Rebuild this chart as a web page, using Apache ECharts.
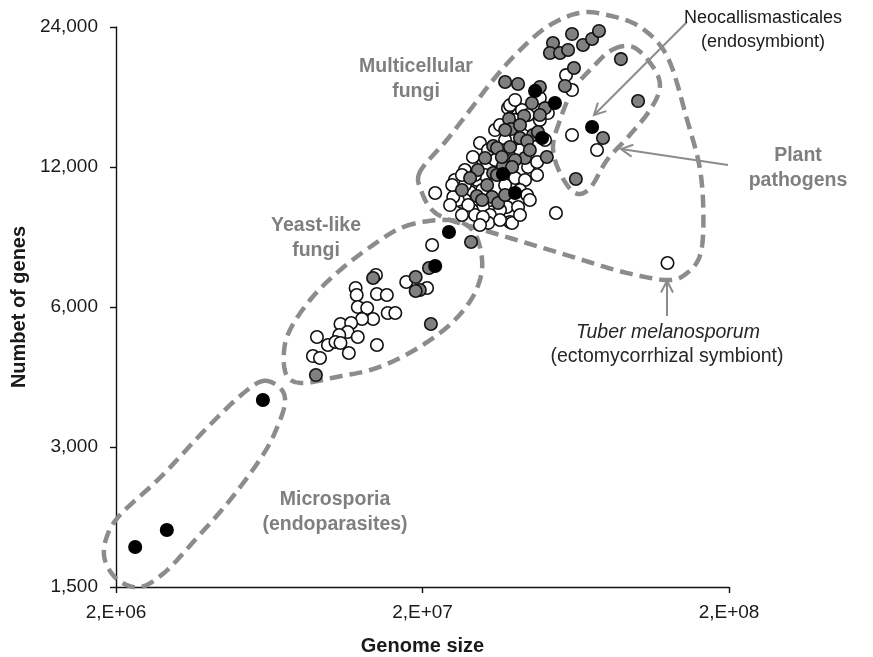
<!DOCTYPE html>
<html><head><meta charset="utf-8">
<script src="https://cdn.jsdelivr.net/npm/echarts@6/dist/echarts.min.js"></script>
<style>html,body{margin:0;padding:0;background:#fff}#c{width:873px;height:657px}</style>
</head><body><div id="c"></div>
<script>
// ---- axis ticks ----
const xTicks = [2e6, 2e7, 2e8];
const yTicks = [1500, 3000, 6000, 12000, 24000];

// ---- data: genome size (Mb) and number of genes ----
const whiteGenomeMb = [21.5,14.1,17.7,20.7,12.1,12.2,14.2,15.3,12.3,13.2,15.4,16.3,13.8,12.7,10.8,11.7,11.4,10.7,12.3,9.05,9.83,10.4,10.8,14.2,11.5,8.78,9.26,
  22.0,58.8,61.5,51.3,38.0,42.2,40.1,61.5,74.2,54.5,126,
  26.1,26.9,28.6,29.2,30.1,27.9,25.5,33.2,33.7,33.2,31.5,38.6,37.7,35.8,31.3,31.5,29.2,30.8,37.2,44.2,47.3,47.3,40.1,43.2,28.6,29.0,33.2,32.8,41.0,27.5,32.5,34.5,35.8,44.8,48.3,41.6,43.9,27.5,29.7,26.1,25.2,39.2,31.5,37.2,41.6,32.0,27.5,
  26.9,29.7,28.2,30.8,35.8,41.6,44.8,50.2,38.6,44.2,34.5,37.2,32.7,26.9,24.6,25.0,40.1,48.3];
const whiteGenes = [8156,7031,6790,6592,6592,6367,6399,6367,6000,5970,5824,5824,5654,5654,5516,5543,5301,5223,5172,5172,4971,5045,5021,4971,4778,4707,4662,
  10550,18915,17565,15675,16065,15915,15150,14063,13053,9556,7461,
  10814,10091,9699,10446,11252,11252,11252,9795,9323,10191,9844,9140,9844,9699,10707,12423,12609,13513,13716,12000,12300,11534,11364,11252,10602,9699,9462,9100,9844,11823,12120,14410,14770,14770,15150,10707,10446,10191,9462,10191,10344,9094,9369,13053,13053,11534,10976,
  11534,11534,9940,9005,9231,9462,10191,13716,16300,15525,12423,10976,13053,9462,9940,10976,16725,16890];

const grayGenomeMb = [28.8,13.8,19.0,19.6,19.0,21.0,21.3,8.98,
  37.2,41.0,48.3,53.3,52.1,56.2,59.7,61.5,66.8,71.5,75.3,62.4,58.3,45.5,50.2,42.9,38.3,38.9,41.6,45.9,47.6,34.0,38.6,43.2,40.1,50.9,30.3,34.0,36.6,39.2,32.5,30.1,33.7,35.3,35.0,36.3,43.9,35.0,
  32.0,28.6,41.6,37.2,44.8,31.3,37.2,48.3,26.9,
  88.8,101,77.6,63.3];
const grayGenes = [8278,6927,6961,6527,6495,7278,5516,4284,
  18280,18105,17835,22170,21105,21105,21420,23175,21960,22620,23535,19590,17925,16470,16065,15450,15225,14480,13852,14063,14271,13314,13248,12547,12423,12609,11823,11649,12059,12000,10976,10395,10344,10041,13182,12609,13647,11534,
  12547,11364,14770,14410,13053,10191,10446,15525,10707,
  20475,16635,13852,11308];

const blackGenomeMb = [2.31,2.93,6.03,24.4,22.0,46.6,54.1,49.1,36.6,40.1,71.5];
const blackGenes = [1829,1989,3786,8698,7350,17490,16470,13852,11590,10550,14628];

// ---- group outlines (genome Mb, genes) ----
const microOutline = [[6.03,4160],[6.86,4018],[7.12,3749],[6.76,3345],[6.03,2883],[4.71,2307],[3.62,1893],[2.89,1615],[2.40,1500],[2.03,1553],[1.84,1715],[1.86,1911],[2.06,2142],[2.78,2574],[3.90,3263],[5.08,3862]];
const yeastOutline = [[17.3,8915],[22.8,9231],[27.5,9050],[30.3,8361],[31.3,7278],[29.4,6367],[25.5,5627],[21.2,5096],[16.9,4662],[13.5,4392],[10.5,4243],[8.15,4119],[7.23,4263],[7.06,4778],[7.39,5355],[8.59,6211],[10.5,7100],[13.5,8076]];
const multiOutline = [[19.6,11700],[19.9,10600],[21.5,9700],[24.6,9231],[33.2,8698],[48.3,8076],[61.9,7686],[90.2,7135],[126,6858],[146,7100],[161,7762],[165,9231],[161,11823],[146,15150],[126,20685],[102.5,24000],[80.0,25470],[64.8,25725],[50.9,24000],[40.7,21100],[34.0,18460],[28.6,15915],[24.0,13716]];
const pathoOutline = [[83.0,21420],[97.3,21735],[113,19695],[119,17835],[110.5,15915],[93.7,13923],[80.0,12423],[70.4,10814],[62.9,10550],[56.2,11649],[53.3,13248],[56.2,15150],[61.9,17565],[72.0,19695]];

const FONT = '"Liberation Sans", Arial, Helvetica, sans-serif';
const zip = (xs, ys) => xs.map((x, i) => [x * 1e6, ys[i]]);

function sciLabel(v) {
  const e = Math.floor(Math.log10(v) + 1e-6);
  const m = Math.round(v / Math.pow(10, e));
  return m + ',E+' + String(e).padStart(2, '0');
}

const chart = echarts.init(document.getElementById('c'), null, {renderer: 'canvas'});
const markerBase = {symbol: 'circle', symbolSize: 12.5};
const option = {
  animation: false,
  backgroundColor: '#fff',
  grid: {left: 116, top: 27, right: 144, bottom: 70, containLabel: false, outerBoundsMode: 'none'},
  xAxis: {
    type: 'log', logBase: 10, min: 2e6, max: 2e8,
    name: 'Genome size', nameLocation: 'middle', nameGap: 49,
    nameTextStyle: {fontFamily: FONT, fontSize: 20, fontWeight: 'bold', color: '#1a1a1a'},
    axisLine: {show: true, lineStyle: {color: '#111', width: 1.4}},
    axisTick: {show: true, customValues: xTicks, length: 6, lineStyle: {color: '#111', width: 1.4}},
    axisLabel: {customValues: xTicks, formatter: sciLabel, margin: 16, fontFamily: FONT, fontSize: 19, color: '#1a1a1a'},
    splitLine: {show: false}, minorTick: {show: false}
  },
  yAxis: {
    type: 'log', logBase: 2, min: 1500, max: 24000,
    name: 'Numbet of genes', nameLocation: 'middle', nameGap: 78, nameRotate: 90,
    nameTextStyle: {fontFamily: FONT, fontSize: 20, fontWeight: 'bold', color: '#1a1a1a'},
    axisLine: {show: true, lineStyle: {color: '#111', width: 1.4}},
    axisTick: {show: true, customValues: yTicks, length: 6, lineStyle: {color: '#111', width: 1.4}},
    axisLabel: {customValues: yTicks, formatter: v => Math.round(v).toLocaleString('en-US'), margin: 18, fontFamily: FONT, fontSize: 19, color: '#1a1a1a'},
    splitLine: {show: false}, minorTick: {show: false}
  },
  series: [
    Object.assign({type: 'scatter', name: 'white', z: 3, data: zip(whiteGenomeMb, whiteGenes),
      itemStyle: {color: '#ffffff', borderColor: '#111', borderWidth: 1.6, opacity: 1}}, markerBase),
    Object.assign({type: 'scatter', name: 'gray', z: 4, data: zip(grayGenomeMb, grayGenes),
      itemStyle: {color: '#808080', borderColor: '#111', borderWidth: 1.6, opacity: 1}}, markerBase),
    Object.assign({type: 'scatter', name: 'black', z: 5, data: zip(blackGenomeMb, blackGenes),
      itemStyle: {color: '#000000', borderColor: '#000', borderWidth: 1.6, opacity: 1}}, markerBase)
  ]
};
chart.setOption(option);

// ---- annotations ----
const toPx = p => chart.convertToPixel({xAxisIndex: 0, yAxisIndex: 0}, [p[0] * 1e6, p[1]]);
// closed Catmull-Rom spline sampled into a dense polygon
function splinePoints(dataPts) {
  const pts = dataPts.map(toPx);
  const n = pts.length, out = [], steps = 14;
  for (let i = 0; i < n; i++) {
    const p0 = pts[(i - 1 + n) % n], p1 = pts[i], p2 = pts[(i + 1) % n], p3 = pts[(i + 2) % n];
    for (let s = 0; s < steps; s++) {
      const t = s / steps, t2 = t * t, t3 = t2 * t;
      const f = k => 0.5 * ((2 * p1[k]) + (-p0[k] + p2[k]) * t + (2 * p0[k] - 5 * p1[k] + 4 * p2[k] - p3[k]) * t2 + (-p0[k] + 3 * p1[k] - 3 * p2[k] + p3[k]) * t3);
      out.push([f(0), f(1)]);
    }
  }
  return out;
}
const dashStyle = {fill: 'none', stroke: '#8c8c8c', lineWidth: 4.5, lineDash: [13, 7], lineCap: 'butt', lineJoin: 'round'};
const outlines = [microOutline, yeastOutline, multiOutline, pathoOutline].map(o => ({
  type: 'polygon', silent: true, z: 1, shape: {points: splinePoints(o)}, style: Object.assign({}, dashStyle)
}));

const arrowColor = '#8c8c8c';
function arrow(from, to) {
  const ang = Math.atan2(to[1] - from[1], to[0] - from[0]);
  const L = 13, a = 0.48;
  const h1 = [to[0] - L * Math.cos(ang - a), to[1] - L * Math.sin(ang - a)];
  const h2 = [to[0] - L * Math.cos(ang + a), to[1] - L * Math.sin(ang + a)];
  const st = {stroke: arrowColor, lineWidth: 2, fill: 'none'};
  return [
    {type: 'polyline', silent: true, z: 6, shape: {points: [from, to]}, style: Object.assign({}, st)},
    {type: 'polyline', silent: true, z: 6, shape: {points: [h1, to, h2]}, style: Object.assign({}, st)}
  ];
}

function label(text, x, y, opts) {
  const o = Object.assign({size: 19.5, weight: 'bold', color: '#7f7f7f', style: 'normal'}, opts || {});
  return {
    type: 'text', silent: true, z: 7, x: x, y: y,
    style: {
      text: text, fill: o.color,
      font: o.style + ' ' + o.weight + ' ' + o.size + 'px ' + FONT,
      align: 'center', verticalAlign: 'middle', textAlign: 'center', textVerticalAlign: 'middle',
      lineHeight: 24.5
    }
  };
}

const graphics = outlines
  .concat(arrow([687, 22], [594, 115]))
  .concat(arrow([728, 165], [621, 149]))
  .concat(arrow([667, 316], [667, 281]))
  .concat([
    label('Multicellular\nfungi', 416, 79),
    label('Yeast-like\nfungi', 316, 238),
    label('Microsporia\n(endoparasites)', 335, 512),
    label('Plant\npathogens', 798, 168),
    label('Neocallismasticales\n(endosymbiont)', 763, 30, {size: 18, weight: 'normal', color: '#1a1a1a'}),
    label('Tuber melanosporum', 668, 333, {size: 19.5, weight: 'normal', color: '#262626', style: 'italic'}),
    label('(ectomycorrhizal symbiont)', 667, 357, {size: 19.5, weight: 'normal', color: '#262626'})
  ]);
chart.setOption({graphic: graphics});
</script>
</body></html>
